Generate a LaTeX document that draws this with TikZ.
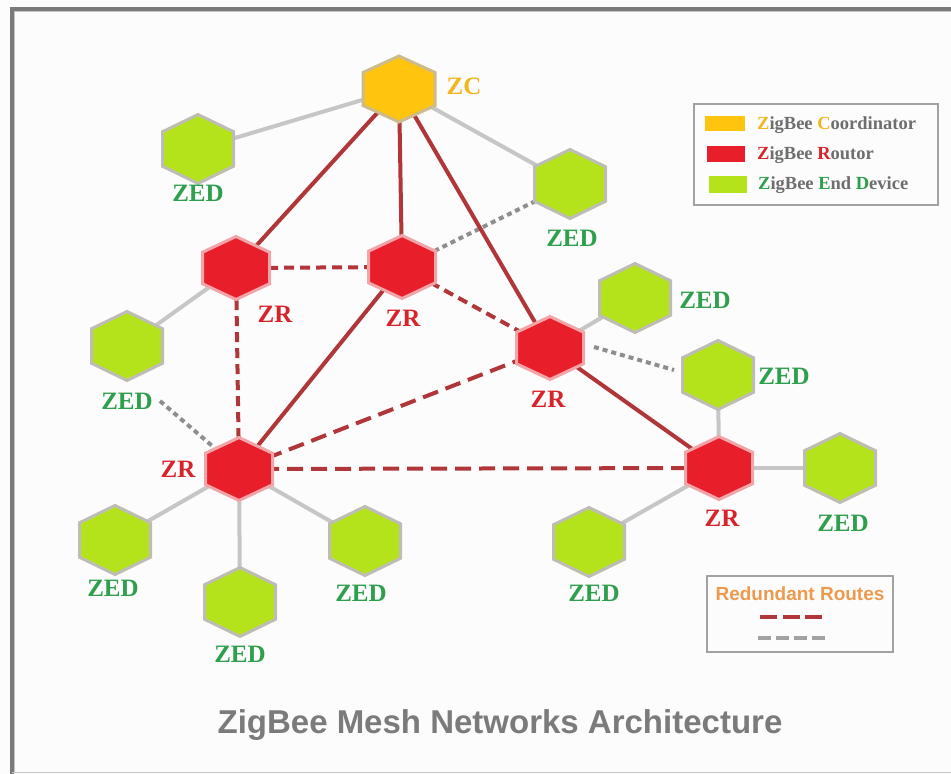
\documentclass[tikz,border=0pt]{standalone}
\usepackage{fontspec}
\newfontfamily\lserif{Liberation Serif}
\newfontfamily\lsans{Liberation Sans}
\definecolor{framegray}{HTML}{7A7A7A}
\definecolor{framelight}{HTML}{C4C4C4}
\definecolor{boxgray}{HTML}{A2A2A2}
\definecolor{zcfill}{HTML}{FFC40D}
\definecolor{zcborder}{HTML}{CDBB8C}
\definecolor{zrfill}{HTML}{E81F2A}
\definecolor{zrborder}{HTML}{F2A5A8}
\definecolor{zedfill}{HTML}{B4E31C}
\definecolor{zedborder}{HTML}{BDBDB5}
\definecolor{linkred}{HTML}{B0363A}
\definecolor{linkgray}{HTML}{C6C6C6}
\definecolor{dotgray}{HTML}{8E8E8E}
\definecolor{txtgray}{HTML}{6E6E6E}
\definecolor{txtyellow}{HTML}{F2B61E}
\definecolor{txtred}{HTML}{D8232A}
\definecolor{txtgreen}{HTML}{2E9F4C}
\definecolor{txtorange}{HTML}{EE9A4D}
\definecolor{titlegray}{HTML}{7B7B7B}
\tikzset{
  pics/hexa/.style 2 args={code={
    \path[pic actions] (0,-#2/2) -- (#1/2,-#2/4) -- (#1/2,#2/4) -- (0,#2/2)
      -- (-#1/2,#2/4) -- (-#1/2,-#2/4) -- cycle;}},
  spot/.style={circle, inner sep=0pt, minimum size=0pt},
  zchex/.style={fill=zcfill, draw=zcborder, line width=3pt, line join=miter},
  zrhex/.style={fill=zrfill, draw=zrborder, line width=3pt, line join=miter},
  zedhex/.style={fill=zedfill, draw=zedborder, line width=3pt, line join=miter},
  redsolid/.style={draw=linkred, line width=4pt},
  reddash/.style={draw=linkred, line width=4pt, dash pattern=on 10pt off 6pt},
  reddashlong/.style={draw=linkred, line width=4pt, dash pattern=on 16pt off 8pt},
  graysolid/.style={draw=linkgray, line width=4pt},
  graydot/.style={draw=dotgray, line width=4pt, dash pattern=on 5pt off 4pt},
  zedlabel/.style={font=\lserif\bfseries\fontsize{25}{25}\selectfont, text=txtgreen, inner sep=0pt},
  zrlabel/.style={font=\lserif\bfseries\fontsize{25}{25}\selectfont, text=txtred, inner sep=0pt},
  zclabel/.style={font=\lserif\bfseries\fontsize{25}{25}\selectfont, text=txtyellow, inner sep=0pt},
  legtext/.style={font=\lserif\bfseries\fontsize{18.5}{18.5}\selectfont, text=txtgray, inner sep=0pt, anchor=base west},
  legbox/.style={draw=boxgray, line width=2pt},
}
\begin{document}
\begin{tikzpicture}[x=1pt,y=-1pt]
\useasboundingbox (0,0) rectangle (951,774);
\fill[white!99!black] (0,0) rectangle (951,774);
% frame
\draw[framegray, line width=4pt] (12,774) -- (12,9) -- (951,9);
\draw[framelight, line width=1pt] (14.5,772) -- (14.5,11.5) -- (951,11.5);
\draw[framelight, line width=1.5pt] (12,772.5) -- (951,772.5);

% node positions
\node[spot] (zc) at (399,89) {};
\node[spot] (zr1) at (236,268) {};
\node[spot] (zr2) at (402,267) {};
\node[spot] (zr3) at (550,348) {};
\node[spot] (zr4) at (239,469) {};
\node[spot] (zr5) at (719,468) {};
\node[spot] (zed1) at (198,149) {};
\node[spot] (zed2) at (570,184) {};
\node[spot] (zed3) at (127,346) {};
\node[spot] (zed4) at (635,298) {};
\node[spot] (zed5) at (718,375) {};
\node[spot] (zed6) at (840,468) {};
\node[spot] (zed7) at (589,542) {};
\node[spot] (zed8) at (115,540) {};
\node[spot] (zed9) at (240,602) {};
\node[spot] (zed10) at (365,541) {};

% gray solid links
\draw[graysolid] (zc) -- (zed1);
\draw[graysolid] (zc) -- (zed2);
\draw[graysolid] (zr1) -- (zed3);
\draw[graysolid] (zr3) -- (zed4);
\draw[graysolid] (zed5) -- (zr5);
\draw[graysolid] (zr5) -- (zed6);
\draw[graysolid] (zr5) -- (zed7);
\draw[graysolid] (zr4) -- (zed8);
\draw[graysolid] (zr4) -- (zed9);
\draw[graysolid] (zr4) -- (zed10);
% gray dotted redundant links
\draw[graydot] (zr2) -- (zed2);
\draw[graydot] ([shift={(33,55)}]zed3.center) -- (zr4);
\draw[graydot] ([shift={(44,-1)}]zr3.center) -- ([shift={(-44,-5)}]zed5.center);
% red solid links
\draw[redsolid] (zc) -- (zr1);
\draw[redsolid] (zc) -- (zr2);
\draw[redsolid] (zc) -- (zr3);
\draw[redsolid] (zr2) -- (zr4);
\draw[redsolid] (zr3) -- (zr5);
% red dashed redundant links
\draw[reddash] (zr1) -- (zr2);
\draw[reddash] (zr1) -- (zr4);
\draw[reddash] (zr2) -- (zr3);
\draw[reddashlong] (zr3) -- (zr4);
\draw[reddashlong] (zr4) -- (zr5);

% hexagons
\pic[zchex] at (zc) {hexa={72}{66}};
\foreach \n in {zr1,zr2,zr3,zr4,zr5} \pic[zrhex] at (\n) {hexa={67}{63}};
\foreach \n in {zed1,zed2,zed3,zed4,zed5,zed6,zed7,zed8,zed9,zed10} \pic[zedhex] at (\n) {hexa={71}{69}};

% labels
\node[zclabel] (lzc) at (464,86) {ZC};
\node[zrlabel] (lzr1) at (275,314) {ZR};
\node[zrlabel] (lzr2) at (403,318) {ZR};
\node[zrlabel] (lzr3) at (548,399) {ZR};
\node[zrlabel] (lzr4) at (178,469) {ZR};
\node[zrlabel] (lzr5) at (722,518) {ZR};
\node[zedlabel] (lzed1) at (198,193) {ZED};
\node[zedlabel] (lzed2) at (572,238) {ZED};
\node[zedlabel] (lzed3) at (127,401) {ZED};
\node[zedlabel] (lzed4) at (705,300) {ZED};
\node[zedlabel] (lzed5) at (784,376) {ZED};
\node[zedlabel] (lzed6) at (843,523) {ZED};
\node[zedlabel] (lzed7) at (594,593) {ZED};
\node[zedlabel] (lzed8) at (113,588) {ZED};
\node[zedlabel] (lzed9) at (240,654) {ZED};
\node[zedlabel] (lzed10) at (361,593) {ZED};

% legend 1
\draw[legbox] (694,104) rectangle (938,205);
\fill[zcfill] (705,116) rectangle (745,131);
\fill[zrfill] (707,146) rectangle (745,162);
\fill[zedfill] (709,176) rectangle (747,193);
\node[legtext] (leg1) at (757,129) {\textcolor{txtyellow}{Z}igBee \textcolor{txtyellow}{C}oordinator};
\node[legtext] (leg2) at (757,159) {\textcolor{txtred}{Z}igBee \textcolor{txtred}{R}outor};
\node[legtext] (leg3) at (758,189) {\textcolor{txtgreen}{Z}igBee \textcolor{txtgreen}{E}nd \textcolor{txtgreen}{D}evice};

% legend 2
\draw[legbox] (707,576) rectangle (893,652);
\node[font=\lsans\bfseries\fontsize{19}{19}\selectfont, text=txtorange, inner sep=0pt] (leg4) at (800,594) {Redundant Routes};
\coordinate (r1a) at (760,617);
\coordinate (r1b) at (822,617);
\coordinate (r2a) at (758,638);
\coordinate (r2b) at (825,638);
\draw[draw=linkred, line width=4pt, dash pattern=on 17pt off 5.5pt] (r1a) -- (r1b);
\draw[draw=boxgray, line width=4pt, dash pattern=on 13pt off 5pt] (r2a) -- (r2b);

% title
\node[font=\lsans\bfseries\fontsize{33}{33}\selectfont, text=titlegray, inner sep=0pt] (title) at (500,725) {ZigBee Mesh Networks Architecture};
\end{tikzpicture}
\end{document}
